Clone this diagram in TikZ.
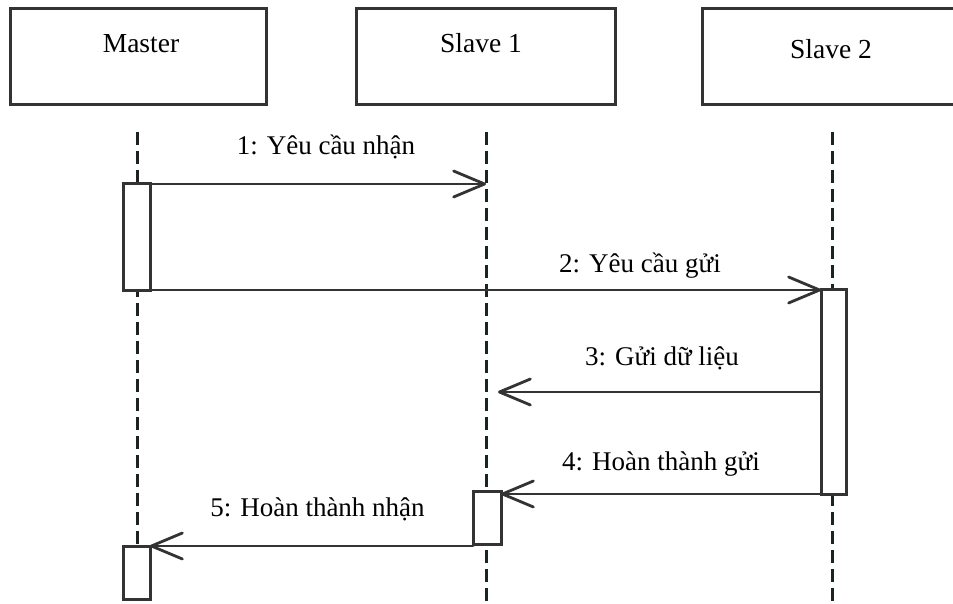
\documentclass[tikz,border=0pt]{standalone}
\usepackage{fontspec}
\setmainfont{Liberation Serif}
\usetikzlibrary{arrows.meta}
\definecolor{ink}{HTML}{333333}
\definecolor{lifeink}{HTML}{1A2424}
\begin{document}
\begin{tikzpicture}[x=1pt,y=-1pt,
  objbox/.style={draw=ink, line width=3pt, fill=white, minimum width=256pt, minimum height=96pt, inner sep=0pt, outer sep=0pt},
  objname/.style={anchor=base, font=\fontsize{27.5}{32}\selectfont, inner sep=0pt},
  actbar/.style={draw=ink, line width=3pt, fill=white, inner sep=0pt, outer sep=0pt, minimum width=27pt},
  lifeline/.style={draw=lifeink, line width=3pt, dash pattern=on 13pt off 6pt},
  msg/.style={draw=ink, line width=2.8pt, line cap=round, -{Straight Barb[length=31pt, width=26pt, round]}},
  msglbl/.style={anchor=base, font=\fontsize{27}{32}\selectfont, inner sep=0pt}]
\useasboundingbox (0,0) rectangle (953,604);
\clip (0,0) rectangle (953,604);

% object heads
\node[objbox] (master) at (138,57) {};
\node[objbox, minimum width=259pt] (slaveA) at (485.5,57) {};
\node[objbox, minimum width=259pt] (slaveB) at (832,57) {};
\node[objname] (masterlbl) at (141,53) {Master};
\node[objname] (slaveAlbl) at (481,53) {Slave 1};
\node[objname] (slaveBlbl) at (831,59) {Slave 2};

% lifelines
\coordinate (mTop) at (137.5,132);
\coordinate (mBot) at (137.5,604);
\coordinate (aTop) at (486,132);
\coordinate (aBot) at (486,604);
\coordinate (bTop) at (832,132);
\coordinate (bBot) at (832,604);
\draw[lifeline] (mTop) -- (mBot);
\draw[lifeline] (aTop) -- (aBot);
\draw[lifeline] (bTop) -- (bBot);

% activation bars
\node[actbar, minimum height=106pt] (mActA) at (136.5,237) {};
\node[actbar, minimum height=53pt] (mActB) at (136.5,572.5) {};
\node[actbar, minimum width=28pt, minimum height=53pt] (aAct) at (487,517.5) {};
\node[actbar, minimum width=25pt, minimum height=205pt] (bAct) at (833.5,391.5) {};

% message end points
\coordinate (aRecv) at (486,184);
\coordinate (aData) at (498,392);
\coordinate (bData) at (821,392);

% messages
\draw[msg] (mActA.north east) -- (aRecv);
\draw[msg] (mActA.south east) -- (mActA.south east -| bAct.west);
\draw[msg] (bData) -- (aData);
\draw[msg] (bAct.south west) -- (aAct.east |- bAct.south west);
\draw[msg] (aAct.west |- mActB.north) -- (mActB.north east);

% message labels
\node[msglbl] (lblA) at (326,155) {1: Yêu cầu nhận};
\node[msglbl] (lblB) at (640,272) {2: Yêu cầu gửi};
\node[msglbl] (lblC) at (662,365) {3: Gửi dữ liệu};
\node[msglbl] (lblD) at (661,470) {4: Hoàn thành gửi};
\node[msglbl] (lblE) at (317.5,516) {5: Hoàn thành nhận};
\end{tikzpicture}
\end{document}
